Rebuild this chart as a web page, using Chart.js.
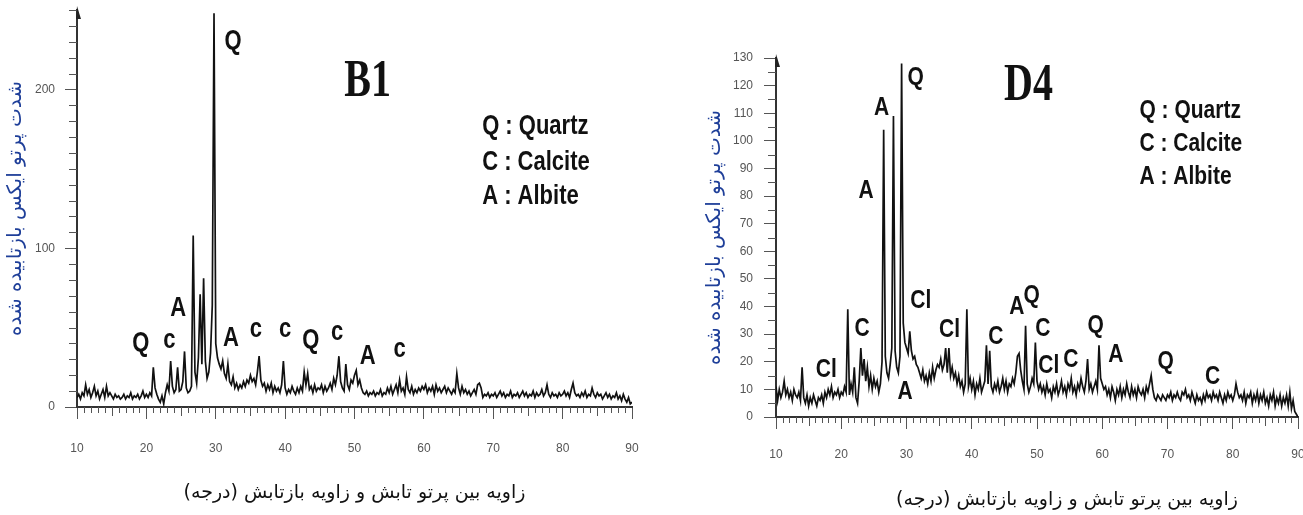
<!DOCTYPE html>
<html>
<head>
<meta charset="utf-8">
<script src="https://cdn.jsdelivr.net/npm/chart.js@4.4.1/dist/chart.umd.min.js"></script>
<style>
  html, body { margin: 0; padding: 0; background: #fff; }
  #wrap { position: relative; width: 1303px; height: 515px; overflow: hidden; }
  .panel { position: absolute; top: 0; height: 515px; }
</style>
</head>
<body>
<div id="wrap">
  <div class="panel" style="left:0;width:650px"><canvas id="b1Chart" width="650" height="515"></canvas></div>
  <div class="panel" style="left:650px;width:653px"><canvas id="d4Chart" width="653" height="515"></canvas></div>
</div>
<script>
// 2-theta grid shared by both scans (degrees)
const ANGLE_START = 10;
const ANGLE_STEP = 0.25;

// sample B1 intensities, one row = 5 degrees
const b1Intensity = [
  6,8,5,9,7,14,8,11,6,9,13,7,10,5,8,11,6,13,7,9,
  7,5,8,6,7,5,6,8,5,7,6,9,5,7,6,8,5,7,10,6,
  8,6,9,7,25,12,8,5,3,7,2,9,14,10,29,13,9,11,25,10,
  11,16,35,12,9,10,13,108,22,15,31,71,27,81,29,18,22,34,64,248,
  40,31,27,24,29,21,18,27,16,14,19,12,15,11,14,12,16,13,17,15,
  20,16,18,14,22,32,17,13,15,10,14,11,15,9,13,10,12,9,14,29,
  12,8,11,9,13,10,8,12,9,13,10,22,14,21,11,13,9,14,10,12,
  11,14,9,13,10,12,15,11,18,14,20,32,16,12,10,27,14,11,17,15,
  20,23,14,17,12,9,8,10,7,9,8,10,7,9,8,11,7,9,8,12,
  9,13,8,11,14,9,17,10,12,8,19,11,9,13,8,11,9,12,10,13,
  11,14,9,12,10,13,8,14,10,12,9,11,13,9,12,10,8,11,9,21,
  12,8,13,9,11,8,10,7,9,11,8,14,15,12,6,8,7,9,6,8,
  7,9,6,8,10,7,9,6,8,7,10,6,8,7,9,6,8,10,7,9,
  6,8,7,10,6,9,7,8,11,7,9,14,8,6,9,7,8,6,9,7,
  8,10,7,9,6,11,15,9,7,8,6,9,7,10,6,8,7,12,8,6,
  9,7,8,5,7,9,6,8,5,7,6,9,5,7,4,8,5,3,6,2,
  3
];

// sample D4 intensities, one row = 5 degrees
const d4Intensity = [
  11,6,10,7,9,13,8,10,7,9,6,10,8,7,9,6,18,7,5,8,
  4,7,5,8,6,4,7,6,8,5,9,7,10,8,11,7,9,8,10,7,
  9,8,11,9,39,8,12,9,18,7,5,13,25,15,21,13,18,11,15,10,
  14,11,13,9,12,20,104,22,16,14,19,25,109,24,18,16,22,128,34,27,
  25,23,31,24,21,22,19,18,16,14,17,13,15,12,16,13,18,14,17,19,
  18,21,17,19,25,16,25,15,18,14,16,12,15,11,13,9,12,39,11,14,
  10,13,8,12,10,14,9,11,13,26,12,24,11,9,12,10,13,9,11,14,
  10,13,9,12,11,14,12,16,22,23,17,13,10,33,12,9,11,14,12,27,
  13,10,12,9,11,8,12,9,10,7,11,9,12,8,10,13,9,11,8,12,
  10,14,9,11,8,12,10,14,11,9,13,21,10,12,9,11,13,10,26,14,
  12,10,11,8,10,7,11,9,6,10,8,11,7,10,8,12,9,7,11,8,
  10,7,11,9,8,10,7,11,9,12,15,10,7,6,8,7,6,8,7,6,
  8,7,9,6,8,7,9,7,6,9,8,10,7,8,6,9,7,5,8,6,
  7,5,8,6,9,7,8,6,9,7,8,6,9,7,5,8,6,9,7,8,
  6,8,12,9,7,8,6,9,5,8,7,9,5,8,6,9,5,8,6,9,
  5,7,4,8,6,9,4,7,5,8,4,7,5,8,4,9,3,6,2,1,
  0
];

// phase letters over the peaks (angle, intensity where the letter sits)
const b1PeakLetters = ['Q', 'Q', 'c', 'A', 'A', 'c', 'c', 'Q', 'c', 'A', 'c'];
const b1PeakAngles  = [32.5, 19.2, 23.3, 24.6, 32.2, 35.8, 40.0, 43.7, 47.5, 51.9, 56.5];
const b1PeakHeights = [230, 40, 42, 62, 43, 49, 49, 42, 47, 32, 36];

const d4PeakLetters = ['Q', 'A', 'A', 'Cl', 'C', 'Cl', 'A', 'Cl', 'C', 'A', 'Q', 'C', 'Cl', 'C', 'Q', 'A', 'Q', 'C'];
const d4PeakAngles  = [31.4, 26.2, 23.8, 32.2, 23.2, 17.7, 29.8, 36.6, 43.7, 46.9, 49.2, 50.9, 51.8, 55.2, 59.0, 62.1, 69.7, 76.9];
const d4PeakHeights = [123, 112, 82, 42, 32, 17, 9, 31.5, 29, 40, 44, 32, 18.5, 20.6, 33, 22.5, 20, 14.5];

const legendLines = ['Q : Quartz', 'C : Calcite', 'A : Albite'];
const xTitle = 'زاویه بین پرتو تابش و زاویه بازتابش (درجه)';
const yTitle = 'شدت پرتو ایکس بازتابیده شده';

Chart.defaults.font.family = '"Liberation Sans", Arial, sans-serif';
Chart.defaults.color = '#555';

function toPoints(values) {
  return values.map((v, i) => ({ x: ANGLE_START + i * ANGLE_STEP, y: v }));
}

function stretchedText(ctx, text, px, py, sy) {
  ctx.save();
  ctx.translate(px, py);
  ctx.scale(1, sy);
  ctx.fillText(text, 0, 0);
  ctx.restore();
}

// minor ticks, axis arrow, peak letters, sample name, phase key, x title
const xrdDecor = {
  id: 'xrdDecor',
  afterDraw(chart, args, opts) {
    const { ctx, chartArea } = chart;
    const x = chart.scales.x, y = chart.scales.y;
    ctx.save();
    ctx.strokeStyle = '#555';
    ctx.lineWidth = 1;
    ctx.beginPath();
    for (let v = x.min; v <= x.max; v += 1) {
      if (v % 10 === 0) continue;
      const px = Math.round(x.getPixelForValue(v)) + 0.5;
      const len = v % 5 === 0 ? 9 : 6;
      ctx.moveTo(px, chartArea.bottom);
      ctx.lineTo(px, chartArea.bottom + len);
    }
    for (let v = opts.minorY; v <= y.max; v += opts.minorY) {
      if (v % opts.majorY === 0) continue;
      const py = Math.round(y.getPixelForValue(v)) + 0.5;
      ctx.moveTo(chartArea.left, py);
      ctx.lineTo(chartArea.left - 8, py);
    }
    ctx.stroke();

    // arrow head on top of the y axis
    ctx.fillStyle = '#222';
    ctx.beginPath();
    ctx.moveTo(chartArea.left, chartArea.top - 4);
    ctx.lineTo(chartArea.left + 4, chartArea.top + 9);
    ctx.lineTo(chartArea.left - 1, chartArea.top + 9);
    ctx.closePath();
    ctx.fill();

    ctx.fillStyle = '#111';
    ctx.textBaseline = 'middle';
    ctx.textAlign = 'center';
    ctx.font = 'bold ' + opts.letterSize + 'px "Liberation Sans", Arial, sans-serif';
    opts.letters.forEach((t, i) => {
      stretchedText(ctx, t, x.getPixelForValue(opts.angles[i]), y.getPixelForValue(opts.heights[i]), 1.25);
    });

    ctx.font = 'bold ' + opts.nameSize + 'px "Liberation Serif", "Times New Roman", serif';
    stretchedText(ctx, opts.name, x.getPixelForValue(opts.nameAt[0]), y.getPixelForValue(opts.nameAt[1]), 1.3);

    ctx.font = '19px "DejaVu Sans", sans-serif';
    ctx.direction = 'rtl';
    ctx.fillText(xTitle, (chartArea.left + chartArea.right) / 2 + opts.xTitleShift, chartArea.bottom + opts.xTitleDrop);
    ctx.direction = 'ltr';

    ctx.textAlign = 'left';
    ctx.font = 'bold ' + opts.keySize + 'px "Liberation Sans", Arial, sans-serif';
    legendLines.forEach((t, i) => {
      stretchedText(ctx, t, x.getPixelForValue(opts.keyAngle), y.getPixelForValue(opts.keyHeights[i]), 1.25);
    });
    ctx.restore();
  }
};

function makeChart(id, values, cfg) {
  return new Chart(document.getElementById(id), {
    type: 'line',
    data: {
      datasets: [{
        data: toPoints(values),
        borderColor: '#111',
        borderWidth: 1.7,
        pointRadius: 0,
        tension: 0,
        fill: false
      }]
    },
    options: {
      responsive: false,
      animation: false,
      devicePixelRatio: 1,
      parsing: false,
      layout: { padding: cfg.padding },
      plugins: {
        legend: { display: false },
        tooltip: { enabled: false },
        xrdDecor: cfg.decor
      },
      scales: {
        x: {
          type: 'linear',
          min: 10,
          max: 90,
          afterFit: s => { s.height = cfg.xHeight; s.paddingLeft = 0; s.paddingRight = 0; },
          ticks: { stepSize: 10, padding: cfg.xTickPad, color: '#555', font: { size: 12 } },
          grid: { drawOnChartArea: false, tickLength: 12, tickColor: '#555' },
          border: { color: '#333', width: 2 }
        },
        y: {
          min: 0,
          max: cfg.yMax,
          afterFit: s => { s.width = cfg.yWidth; s.paddingTop = 0; s.paddingBottom = 0; },
          afterBuildTicks: s => { s.ticks = s.ticks.filter(t => t.value % cfg.yStep === 0); },
          ticks: { stepSize: cfg.yStep, padding: cfg.yTickPad, color: '#555', font: { size: 12 } },
          grid: { drawOnChartArea: false, tickLength: 12, tickColor: '#555' },
          border: { color: '#333', width: 2 },
          title: {
            display: true,
            text: yTitle,
            color: '#1f3f99',
            font: { family: '"DejaVu Sans", sans-serif', size: 20 },
            padding: { top: cfg.yTitlePad, bottom: 0 }
          }
        }
      }
    },
    plugins: [xrdDecor]
  });
}

makeChart('b1Chart', b1Intensity, {
  padding: { top: 10, right: 18, left: 0, bottom: 0 },
  xHeight: 108, xTickPad: 22,
  yMax: 250, yStep: 100, yWidth: 77, yTickPad: 10, yTitlePad: 4,
  decor: {
    minorY: 10, majorY: 100,
    letters: b1PeakLetters, angles: b1PeakAngles, heights: b1PeakHeights, letterSize: 22,
    name: 'B1', nameAt: [51.9, 204], nameSize: 40,
    keyAngle: 68.4, keyHeights: [177, 154, 132.5], keySize: 22,
    xTitleShift: 0, xTitleDrop: 86
  }
});

makeChart('d4Chart', d4Intensity, {
  padding: { top: 58, right: 5, left: 0, bottom: 0 },
  xHeight: 98, xTickPad: 18,
  yMax: 130, yStep: 10, yWidth: 126, yTickPad: 11, yTitlePad: 53,
  decor: {
    minorY: 5, majorY: 10,
    letters: d4PeakLetters, angles: d4PeakAngles, heights: d4PeakHeights, letterSize: 21,
    name: 'D4', nameAt: [48.7, 119.6], nameSize: 40,
    keyAngle: 65.7, keyHeights: [111, 99, 87], keySize: 21,
    xTitleShift: 30, xTitleDrop: 83
  }
});
</script>
</body>
</html>
